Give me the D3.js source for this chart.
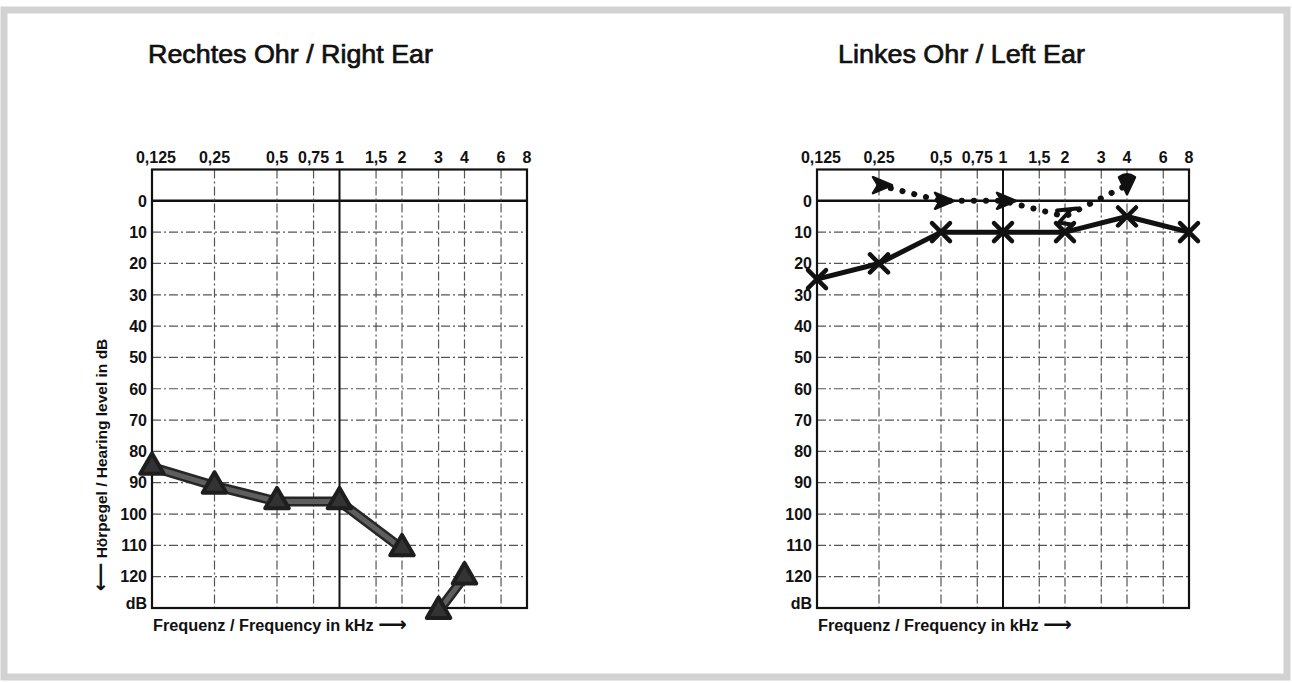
<!DOCTYPE html>
<html>
<head>
<meta charset="utf-8">
<script src="https://cdn.jsdelivr.net/npm/d3@7"></script>
<style>
    body { margin: 0; background: #fff; }
    svg { display: block; }
    text { font-family: "Liberation Sans", Arial, sans-serif; fill: #111; }
    .arrow { font-family: "DejaVu Sans", sans-serif; }
</style>
</head>
<body>
<svg id="audiogram" width="1292" height="683"></svg>
<script>
// frequencies printed on top of the chart (kHz)
const freqTicks = [0.125, 0.25, 0.5, 0.75, 1, 1.5, 2, 3, 4, 6, 8];
const freqLabels = ["0,125", "0,25", "0,5", "0,75", "1", "1,5", "2", "3", "4", "6", "8"];
const dbTicks = [0, 10, 20, 30, 40, 50, 60, 70, 80, 90, 100, 110, 120];

// right ear, triangle markers
const rightFreqs = [0.125, 0.25, 0.5, 1, 2];
const rightDb = [85, 91, 96, 96, 111];
const rightFreqs2 = [3, 4];
const rightDb2 = [131, 120];

// left ear, air conduction (x)
const leftAirFreqs = [0.125, 0.25, 0.5, 1, 2, 4, 8];
const leftAirDb = [25, 20, 10, 10, 10, 5, 10];

// left ear, dotted series
const leftBoneFreqs = [0.25, 0.5, 1, 2, 4];
const leftBoneDb = [-5, 0, 0, 5, -5];
const leftBoneSymbols = ["gt", "gt", "gt", "z", "down"];

const svg = d3.select("#audiogram");

// grey frame around the picture
svg.append("rect")
    .attr("x", 4).attr("y", 10)
    .attr("width", 1283).attr("height", 667)
    .attr("fill", "#fff")
    .attr("stroke", "#d2d2d2")
    .attr("stroke-width", 7);

function drawPanel(left, right, title, titleX, titleW) {
    const x = d3.scaleLog().base(2).domain([0.125, 8]).range([left, right]);
    const y = d3.scaleLinear().domain([-10, 130]).range([169.5, 608]);
    const g = svg.append("g");

    svg.append("text")
        .attr("x", titleX).attr("y", 63)
        .attr("font-size", "26px")
        .attr("textLength", titleW)
        .attr("lengthAdjust", "spacingAndGlyphs")
        .attr("stroke", "#111").attr("stroke-width", 0.7)
        .text(title);

    // horizontal grid
    g.selectAll(".hline")
        .data(dbTicks)
        .enter().append("line")
        .attr("x1", x(0.125)).attr("x2", x(8))
        .attr("y1", d => y(d)).attr("y2", d => y(d))
        .attr("stroke", d => d === 0 ? "#111" : "#555")
        .attr("stroke-width", d => d === 0 ? 2.5 : 1.2)
        .attr("stroke-dasharray", d => d === 0 ? null : "9,3,2,3");

    // vertical grid, 1 kHz is solid
    g.selectAll(".vline")
        .data(freqTicks.slice(1, -1))
        .enter().append("line")
        .attr("x1", d => x(d)).attr("x2", d => x(d))
        .attr("y1", y(-10)).attr("y2", y(130))
        .attr("stroke", d => d === 1 ? "#111" : "#555")
        .attr("stroke-width", d => d === 1 ? 2 : 1.2)
        .attr("stroke-dasharray", d => d === 1 ? null : "9,3,2,3");

    g.append("rect")
        .attr("x", x(0.125)).attr("y", y(-10))
        .attr("width", x(8) - x(0.125)).attr("height", y(130) - y(-10))
        .attr("fill", "none")
        .attr("stroke", "#111")
        .attr("stroke-width", 2.2);

    // frequency labels on top
    g.selectAll(".flab")
        .data(freqTicks)
        .enter().append("text")
        .attr("x", (d, i) => x(d) + (i === 0 ? 4 : 0))
        .attr("y", 163)
        .attr("text-anchor", "middle")
        .attr("font-size", "16px")
        .attr("font-weight", "bold")
        .text((d, i) => freqLabels[i]);

    // dB labels
    g.selectAll(".dlab")
        .data(dbTicks)
        .enter().append("text")
        .attr("x", x(0.125) - 5)
        .attr("y", d => y(d))
        .attr("dy", "0.36em")
        .attr("text-anchor", "end")
        .attr("font-size", "16px")
        .attr("font-weight", "bold")
        .text(d => d);

    g.append("text")
        .attr("x", x(0.125) - 5).attr("y", 603)
        .attr("dy", "0.36em")
        .attr("text-anchor", "end")
        .attr("font-size", "16px")
        .attr("font-weight", "bold")
        .text("dB");

    const xt = g.append("text")
        .attr("x", x(0.125) + 1).attr("y", 631)
        .attr("font-size", "16.3px")
        .attr("font-weight", "bold");
    xt.append("tspan").text("Frequenz / Frequency in kHz ");
    xt.append("tspan").attr("class", "arrow").attr("font-size", "20px").text("\u27f6");

    return { x: x, y: y, g: g };
}

// ---- right ear ----
const rp = drawPanel(152, 527, "Rechtes Ohr / Right Ear", 148, 285);

const yt = rp.g.append("text")
    .attr("transform", "translate(107,465) rotate(-90)")
    .attr("text-anchor", "middle")
    .attr("font-size", "15.5px")
    .attr("font-weight", "bold");
yt.append("tspan").attr("class", "arrow").attr("font-size", "20px").text("\u27f5");
yt.append("tspan").text(" H\u00f6rpegel / Hearing level in dB");

const tri = d3.symbol().type(d3.symbolTriangle).size(240);

function rightSeries(freqs, dbs) {
    const pts = freqs.map((f, i) => [rp.x(f), rp.y(dbs[i])]);
    const line = d3.line();
    rp.g.append("path")
        .attr("d", line(pts))
        .attr("fill", "none")
        .attr("stroke", "#262626")
        .attr("stroke-width", 10)
        .attr("stroke-linecap", "round");
    rp.g.append("path")
        .attr("d", line(pts))
        .attr("fill", "none")
        .attr("stroke", "#5e5e5e")
        .attr("stroke-width", 5)
        .attr("stroke-linecap", "round");
    rp.g.selectAll(null)
        .data(pts)
        .enter().append("path")
        .attr("d", tri)
        .attr("transform", d => `translate(${d[0]},${d[1]})`)
        .attr("fill", "#333")
        .attr("stroke", "#1e1e1e")
        .attr("stroke-width", 4)
        .attr("stroke-linejoin", "round");
}
rightSeries(rightFreqs, rightDb);
rightSeries(rightFreqs2, rightDb2);

// ---- left ear ----
const lp = drawPanel(817, 1189, "Linkes Ohr / Left Ear", 838, 247);

const airPts = leftAirFreqs.map((f, i) => [lp.x(f), lp.y(leftAirDb[i])]);
lp.g.append("path")
    .attr("d", d3.line()(airPts))
    .attr("fill", "none")
    .attr("stroke", "#111")
    .attr("stroke-width", 5)
    .attr("stroke-linejoin", "round");

lp.g.selectAll(".cross")
    .data(airPts)
    .enter().append("path")
    .attr("d", "M-9,-9L9,9M-9,9L9,-9")
    .attr("transform", d => `translate(${d[0]},${d[1]})`)
    .attr("stroke", "#111")
    .attr("stroke-width", 4.5)
    .attr("stroke-linecap", "round");

const bonePts = leftBoneFreqs.map((f, i) => [lp.x(f), lp.y(leftBoneDb[i])]);
lp.g.append("path")
    .attr("d", d3.line()(bonePts))
    .attr("fill", "none")
    .attr("stroke", "#111")
    .attr("stroke-width", 6)
    .attr("stroke-dasharray", "0.1,12")
    .attr("stroke-linecap", "round");

const bonePaths = {
    gt: "M-6,-8L13,0L-6,8L-1,0Z",
    z: "M-8,-6L12,-8M6,-7L-6,6L6,8",
    down: "M-8,-8Q0,-14 8,-8L0,9Z"
};
lp.g.selectAll(".bone")
    .data(bonePts)
    .enter().append("path")
    .attr("d", (d, i) => bonePaths[leftBoneSymbols[i]])
    .attr("transform", d => `translate(${d[0]},${d[1]})`)
    .attr("fill", (d, i) => leftBoneSymbols[i] === "z" ? "none" : "#111")
    .attr("stroke", "#111")
    .attr("stroke-width", (d, i) => leftBoneSymbols[i] === "z" ? 4 : 2.5)
    .attr("stroke-linejoin", "round")
    .attr("stroke-linecap", "round");
</script>
</body>
</html>
